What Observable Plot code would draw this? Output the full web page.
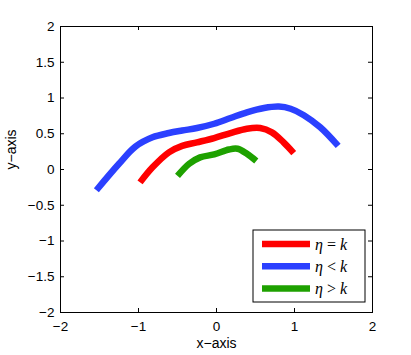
<!DOCTYPE html>
<html>
<head>
<meta charset="utf-8">
<script src="https://cdn.jsdelivr.net/npm/d3@7"></script>
<script src="https://cdn.jsdelivr.net/npm/@observablehq/plot@0.6"></script>
<style>
  html, body { margin: 0; padding: 0; background: #fff; }
  #chart { position: relative; width: 411px; height: 355px; }
</style>
</head>
<body>
<div id="chart"></div>
<script>
// ---- data ----
const redX   = [-0.98, -0.82, -0.61, -0.44, -0.25, -0.03, 0.18, 0.39, 0.56, 0.71, 0.86, 0.99];
const redY   = [-0.18,  0.03,  0.24,  0.33,  0.38,  0.44, 0.51, 0.57, 0.58, 0.52, 0.38, 0.23];
const blueX  = [-1.54, -1.25, -1.04, -0.82, -0.61, -0.44, -0.25, -0.03, 0.18, 0.39, 0.61, 0.80, 0.95, 1.12, 1.33, 1.56];
const blueY  = [-0.29,  0.08,  0.32,  0.45,  0.51,  0.545, 0.58, 0.64, 0.72, 0.80, 0.86, 0.88, 0.85, 0.76, 0.59, 0.33];
const greenX = [-0.50, -0.35, -0.21, -0.03, 0.16, 0.27, 0.39, 0.51];
const greenY = [-0.09,  0.08,  0.17,  0.21, 0.28, 0.29, 0.22, 0.12];

const seriesNames  = ["η = k", "η < k", "η > k"];
const seriesColors = ["#ff0000", "#2b40ff", "#1ea100"];
const xTicks = [-2, -1, 0, 1, 2];
const yTicks = [-2, -1.5, -1, -0.5, 0, 0.5, 1, 1.5, 2];
const xLabel = "x−axis";
const yLabel = "y−axis";

const toRows = (xs, ys, s) => xs.map((x, i) => ({x, y: ys[i], s}));
const rows = [
  ...toRows(redX, redY, seriesNames[0]),
  ...toRows(blueX, blueY, seriesNames[1]),
  ...toRows(greenX, greenY, seriesNames[2])
];

const W = 411, H = 355, mL = 60, mR = 39, mT = 26, mB = 43;
const fw = W - mL - mR, fh = H - mT - mB, tk = 4;
const fmt = d => (d < 0 ? "−" : "") + Math.abs(d);

const plot = Plot.plot({
  width: W, height: H,
  marginLeft: mL, marginRight: mR, marginTop: mT, marginBottom: mB,
  style: {fontFamily: "'Liberation Sans', Arial, sans-serif", fontSize: "13px", color: "#000", background: "#fff"},
  x: {domain: [-2, 2], ticks: xTicks, tickFormat: fmt},
  y: {domain: [-2, 2], ticks: yTicks, tickFormat: fmt},
  color: {domain: seriesNames, range: seriesColors},
  marks: [
    Plot.axisX({ticks: xTicks, tickFormat: fmt, tickSize: 0, tickPadding: 9, label: null, fontSize: 13.5}),
    Plot.axisY({ticks: yTicks, tickFormat: fmt, tickSize: 0, tickPadding: 6, label: null, fontSize: 13.5}),
    // inward ticks on all four sides
    Plot.tickX(xTicks, {x: d => d, insetTop: fh - tk, stroke: "#000"}),
    Plot.tickX(xTicks, {x: d => d, insetBottom: fh - tk, stroke: "#000"}),
    Plot.tickY(yTicks, {y: d => d, insetRight: fw - tk, stroke: "#000"}),
    Plot.tickY(yTicks, {y: d => d, insetLeft: fw - tk, stroke: "#000"}),
    Plot.line(rows, {x: "x", y: "y", z: "s", stroke: "s", strokeWidth: 6.5, curve: "catmull-rom", strokeLinecap: "butt", strokeLinejoin: "round"}),
    Plot.frame({stroke: "#000", strokeWidth: 1}),
    Plot.text([xLabel], {frameAnchor: "bottom", dy: 35, fontSize: 14, fill: "#000"}),
    Plot.text([yLabel], {frameAnchor: "left", dx: -49, rotate: -90, fontSize: 14, fill: "#000"})
  ]
});
document.getElementById("chart").appendChild(plot);

// legend (inside the axes, bottom-right)
const svg = d3.select(plot);
const lg = svg.append("g").attr("transform", "translate(253,230)");
lg.append("rect").attr("width", 112).attr("height", 72)
  .attr("fill", "#fff").attr("stroke", "#000").attr("stroke-width", 1);
const parts = [["η", " = ", "k"], ["η", " < ", "k"], ["η", " > ", "k"]];
seriesNames.forEach((n, i) => {
  const yy = 14 + i * 22.3;
  lg.append("line").attr("x1", 9).attr("x2", 57).attr("y1", yy).attr("y2", yy)
    .attr("stroke", seriesColors[i]).attr("stroke-width", 6.5);
  const t = lg.append("text").attr("x", 62).attr("y", yy).attr("dy", "0.35em")
    .attr("text-anchor", "start")
    .attr("font-family", "'Liberation Serif', 'DejaVu Serif', serif").attr("font-size", 16).attr("fill", "#000");
  t.append("tspan").attr("font-style", "italic").text(parts[i][0]);
  t.append("tspan").attr("xml:space", "preserve").text(parts[i][1]);
  t.append("tspan").attr("font-style", "italic").text(parts[i][2]);
});
</script>
</body>
</html>
